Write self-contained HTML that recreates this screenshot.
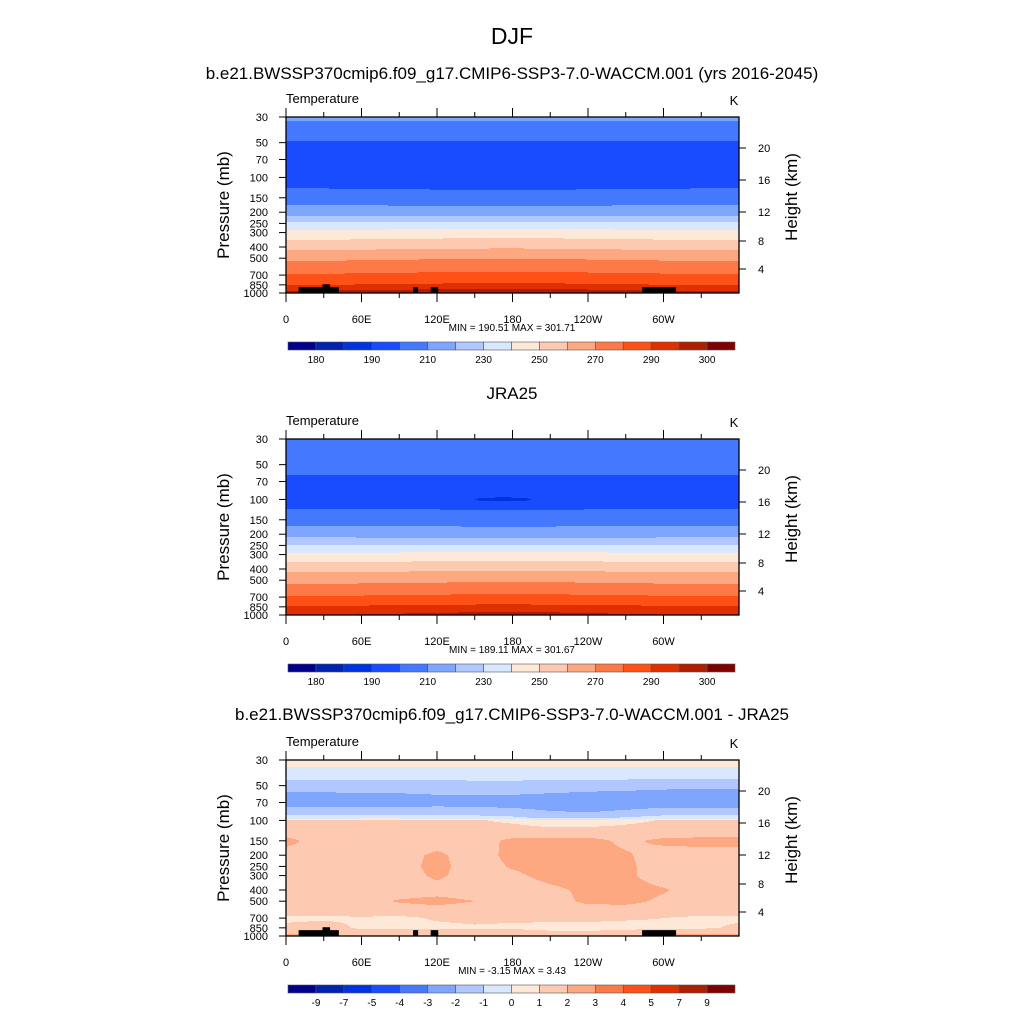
<!DOCTYPE html>
<html><head><meta charset="utf-8">
<style>
html,body{margin:0;padding:0;background:#fff;}
svg{display:block;font-family:"Liberation Sans",sans-serif;}
</style></head>
<body>
<svg id="fig" width="1024" height="1024" viewBox="0 0 1024 1024" xmlns="http://www.w3.org/2000/svg">
<text x="512" y="44" font-size="23" text-anchor="middle">DJF</text>
</svg>
<script>
// ---------- data ----------
const levels = [30,40,50,62,70,100,120,150,200,250,300,400,500,700,850,1000];
const lons = [0,30,60,90,120,150,180,210,240,270,300,330,360];
const profile1 = [212,205,199,196,195,195,199,205,215,232,243,257,268,281,290,297];
const offset1 = [0,0,0.4,0.8,1.2,1.5,1.6,1.4,1.0,0.5,0.2,0,0];
const profile2 = [210,204,202,200,197,194,200,206,216,230,242,257,267,281,291,295];
const offset2 = [0,0,0.3,0.7,1.0,1.4,1.5,1.3,1.0,0.5,0.2,0,0];
const blob2 = [150,195,100,188];
const diffLevels = [30,40,50,60,70,85,95,100,125,150,200,250,300,400,500,600,700,850,925,1000];
const diffGrid = [
[0.5,0.5,0.5,0.5,0.5,0.5,0.5,0.5,0.5,0.5,0.5,0.5,0.5],
[-0.5,-0.5,-0.5,-0.5,-0.5,-0.5,-0.5,-0.5,-0.5,-0.5,-0.5,-0.5,-0.5],
[-1.5,-1.5,-1.5,-1.5,-1.5,-1.4,-1.4,-1.5,-1.6,-1.6,-1.7,-1.8,-1.8],
[-2.2,-2.2,-2.1,-2.1,-2.0,-2.0,-2.0,-2.1,-2.2,-2.3,-2.4,-2.4,-2.4],
[-2.5,-2.5,-2.5,-2.5,-2.4,-2.4,-2.5,-2.6,-2.8,-2.6,-2.6,-2.6,-2.6],
[-1.5,-1.5,-1.4,-1.4,-1.4,-1.5,-1.6,-1.9,-2.0,-1.8,-1.5,-1.5,-1.5],
[-0.5,-0.5,-0.4,-0.4,-0.5,-0.6,-0.8,-1.2,-1.2,-0.9,-0.6,-0.5,-0.5],
[1.2,1.2,1.2,1.2,1.2,1.1,0.8,0.4,0.4,0.7,1.1,1.2,1.2],
[1.5,1.5,1.5,1.5,1.5,1.5,1.5,1.4,1.4,1.5,1.5,1.5,1.5],
[2.3,1.5,1.5,1.5,1.5,1.6,2.2,2.3,2.3,1.8,2.2,2.3,2.3],
[1.6,1.6,1.5,1.6,2.2,1.5,2.3,2.4,2.4,2.1,1.6,1.6,1.6],
[1.5,1.5,1.7,1.6,2.3,1.5,2.1,2.4,2.5,2.2,1.5,1.5,1.5],
[1.5,1.5,1.5,1.5,2.2,1.5,1.8,2.3,2.5,2.2,1.5,1.5,1.5],
[1.5,1.5,1.5,1.5,1.6,1.5,1.5,1.8,2.2,2.4,2.1,1.5,1.5],
[1.5,1.8,1.6,2.1,2.3,2.0,1.6,1.6,2.2,2.3,1.8,1.5,1.5],
[1.4,1.5,1.5,1.5,1.6,1.5,1.5,1.5,1.6,1.5,1.5,1.5,1.4],
[0.8,0.8,0.9,0.8,1.1,1.2,1.2,1.3,1.3,1.1,1.0,0.8,0.8],
[1.2,1.5,0.8,0.8,0.8,0.9,0.8,0.6,0.5,0.7,0.8,0.8,1.2],
[1.8,1.8,1.5,1.5,1.5,1.5,1.5,1.2,1.2,1.4,1.5,1.8,1.8],
[2.2,2.3,1.6,1.5,1.8,1.5,1.5,1.5,1.5,1.8,2.3,2.3,2.2]];
const topo = [[10,42,890],[29,35,840],[101,105,890],[115,121,890],[283,310,890]];
const tempBounds = [180,185,190,200,210,220,230,240,250,260,270,280,290,295,300];
const tempLabels = ["180","190","210","230","250","270","290","300"];
const diffBounds = [-9,-7,-5,-4,-3,-2,-1,0,1,2,3,4,5,7,9];
const diffLabels = ["-9","-7","-5","-4","-3","-2","-1","0","1","2","3","4","5","7","9"];
const colors = ["#00008c","#0022b0","#0033e0","#1a4cff","#4479ff","#7ea6ff","#b0c8ff","#d7e8ff","#fee8d8","#fdc9b0","#fda880","#fd7a48","#ff5018","#e03000","#b01e00","#800000"];
const presTicks = [30,50,70,100,150,200,250,300,400,500,700,850,1000];
const heightTicks = [4,8,12,16,20];
const heightY = [269,241,212,180,148];
const lonLabels = ["0","60E","120E","180","120W","60W"];

// ---------- helpers ----------
const NS="http://www.w3.org/2000/svg";
const svg=document.getElementById('fig');
const X0=286, X1=739, PH=176;
function el(tag,attrs,parent){const e=document.createElementNS(NS,tag);for(const k in attrs)e.setAttribute(k,attrs[k]);(parent||svg).appendChild(e);return e;}
function xScale(lon){return X0+(X1-X0)*lon/360;}
function yScale(top,p){return top+PH*Math.log10(p/30)/Math.log10(1000/30);}
function colorIdx(v,b){let i=0;while(i<b.length&&v>=b[i])i++;return i;}
function interpLev(levs,p){
  const lp=Math.log(p);
  for(let i=0;i<levs.length-1;i++){
    if(p<=levs[i+1]){const f=(lp-Math.log(levs[i]))/(Math.log(levs[i+1])-Math.log(levs[i]));return [i,Math.max(0,Math.min(1,f))];}
  }
  return [levs.length-2,1];
}
function lonIdx(lon){const s=lon/30;let i=Math.min(11,Math.floor(s));return [i,s-i];}
function fieldProfile(prof,off,blob){
  return function(p,lon){
    const [i,f]=interpLev(levels,p);const [j,g]=lonIdx(lon);
    let v=prof[i]*(1-f)+prof[i+1]*f;
    const o=off[j]*(1-g)+off[j+1]*g;
    const w=Math.max(0,1-Math.abs(Math.log(p/150))/1.0);
    v+= o*(p>250?1:-0.6*w);
    if(blob){const c=(blob[0]+blob[1])/2,hw=(blob[1]-blob[0])/2;const dx=(lon-c)/hw,dy=Math.log(p/blob[2])/0.04;const r=dx*dx+dy*dy;if(r<1)v=Math.min(v,blob[3]);}
    return v;
  };
}
function fieldGrid(p,lon){
  const [i,f]=interpLev(diffLevels,p);const [j,g]=lonIdx(lon);
  const a=diffGrid[i][j]*(1-g)+diffGrid[i][j+1]*g;
  const b=diffGrid[i+1][j]*(1-g)+diffGrid[i+1][j+1]*g;
  return a*(1-f)+b*f;
}

function panel(top,fn,bounds,name,minmax,labels,everyOther,title,showTopo){
  const g=el('g',{});
  
  
  if(title){const t=el('text',{x:512,y:top-40,'font-size':17,'text-anchor':'middle'},g);t.textContent=title;}
  const tt=el('text',{x:286,y:top-14,'font-size':13},g);tt.textContent='Temperature';
  
  const kk=el('text',{x:734,y:top-12,'font-size':13,'text-anchor':'middle'},g);kk.textContent='K';
  
  const W=X1-X0;
  const fill=el('g',{'shape-rendering':'crispEdges'},g);
  
  for(let py=0;py<PH;py++){
    const p=30*Math.pow(1000/30,(py+0.5)/PH);
    let start=0,cur=-1;
    for(let px=0;px<=W;px++){
      let c=-1;
      if(px<W){const lon=(px+0.5)/W*360;c=colorIdx(fn(p,lon),bounds);}
      if(c!==cur){
        if(cur>=0){el('rect',{x:X0+start,y:top+py,width:px-start,height:1.05,fill:colors[cur]},fill);}
        cur=c;start=px;
      }
    }
  }
  if(showTopo){
    topo.forEach(t=>{
      const yt=yScale(top,t[2]);
      const r=el('rect',{x:xScale(t[0]),y:yt,width:xScale(t[1])-xScale(t[0]),height:top+PH-yt,fill:'#000'},g);
      
    });
  }
  el('rect',{x:X0,y:top,width:W,height:PH,fill:'none',stroke:'#000','stroke-width':1.3},g);
  for(let lon=0;lon<=330;lon+=30){
    const x=xScale(lon),len=lon%60===0?9:5;
    el('line',{x1:x,x2:x,y1:top,y2:top-len,stroke:'#000','stroke-width':1},g);
    el('line',{x1:x,x2:x,y1:top+PH,y2:top+PH+len,stroke:'#000','stroke-width':1},g);
  }
  lonLabels.forEach((l,i)=>{const t=el('text',{x:xScale(i*60),y:top+PH+30,'font-size':11,'text-anchor':'middle'},g);t.textContent=l;
    });
  presTicks.forEach(p=>{const y=yScale(top,p);
    el('line',{x1:X0-7,x2:X0,y1:y,y2:y,stroke:'#000'},g);
    const t=el('text',{x:268,y:y+4,'font-size':11,'text-anchor':'end'},g);t.textContent=p;
    });
  heightTicks.forEach((h,i)=>{const y=top+(heightY[i]-117);
    el('line',{x1:X1,x2:X1+7,y1:y,y2:y,stroke:'#000'},g);
    const t=el('text',{x:758,y:y+4,'font-size':11},g);t.textContent=h;
    });
  const yl=el('text',{x:0,y:0,'font-size':17,'text-anchor':'middle',transform:`translate(229,${top+88}) rotate(-90)`},g);yl.textContent='Pressure (mb)';
  
  const yr=el('text',{x:0,y:0,'font-size':17,'text-anchor':'middle',transform:`translate(797,${top+80}) rotate(-90)`},g);yr.textContent='Height (km)';
  
  const mm=el('text',{x:512,y:top+PH+38,'font-size':10,'text-anchor':'middle','xml:space':'preserve'},g);mm.textContent=minmax;
  
  const cb=el('g',{},g);
  const bx0=288,bx1=735,bw=(bx1-bx0)/colors.length,by=top+PH+49;
  colors.forEach((c,i)=>{el('rect',{x:bx0+i*bw,y:by,width:bw,height:8,fill:c,stroke:'#555','stroke-width':0.6},cb);});
  labels.forEach((l,i)=>{const k=everyOther?2*i+1:i+1;const t=el('text',{x:bx0+k*bw,y:by+21,'font-size':10,'text-anchor':'middle'},cb);t.textContent=l;
    });
}
const sub=el('text',{x:512,y:79,'font-size':17,'text-anchor':'middle'});sub.textContent='b.e21.BWSSP370cmip6.f09_g17.CMIP6-SSP3-7.0-WACCM.001 (yrs 2016-2045)';

panel(117,fieldProfile(profile1,offset1,null),tempBounds,'model-panel','MIN = 190.51  MAX = 301.71',tempLabels,true,null,true);
panel(439,fieldProfile(profile2,offset2,blob2),tempBounds,'obs-panel','MIN = 189.11  MAX = 301.67',tempLabels,true,'JRA25',false);
panel(760,fieldGrid,diffBounds,'difference-panel','MIN =  -3.15  MAX =   3.43',diffLabels,false,'b.e21.BWSSP370cmip6.f09_g17.CMIP6-SSP3-7.0-WACCM.001 - JRA25',true);
</script>
</body></html>
